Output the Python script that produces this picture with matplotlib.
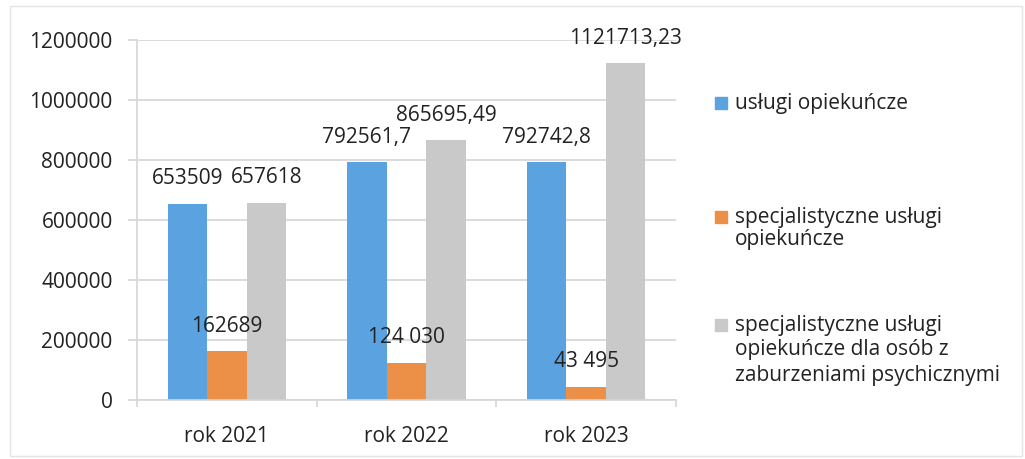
import numpy as np
import matplotlib.pyplot as plt
from matplotlib.patches import Rectangle

# dane z wykresu
years = ['rok 2021', 'rok 2022', 'rok 2023']
series_names = ['usługi opiekuńcze',
                'specjalistyczne usługi\nopiekuńcze',
                'specjalistyczne usługi\nopiekuńcze dla osób z\nzaburzeniami psychicznymi']
uslugi = [653509, 792561.7, 792742.8]
specjalistyczne = [162689, 124030, 43495]
psychiczne = [657618, 865695.49, 1121713.23]
labels_uslugi = ['653509', '792561,7', '792742,8']
labels_spec = ['162689', '124 030', '43 495']
labels_psych = ['657618', '865695,49', '1121713,23']
yticks = [0, 200000, 400000, 600000, 800000, 1000000, 1200000]

colors = ['#5BA3E0', '#EC8F47', '#C9C9C9']
txt = '#222222'
grid = '#d6d6d6'

plt.rcParams['font.family'] = ['Open Sans', 'DejaVu Sans']
plt.rcParams['font.size'] = 15

W, H = 1025, 459
fig = plt.figure(figsize=(W / 100, H / 100), dpi=100)
ax = fig.add_axes([137 / W, 59 / H, 539 / W, 360 / H])

x = np.arange(len(years))
w = 0.22
off = 0.22
all_vals = [uslugi, specjalistyczne, psychiczne]
all_labels = [labels_uslugi, labels_spec, labels_psych]
for i, (vals, labs) in enumerate(zip(all_vals, all_labels)):
    bars = ax.bar(x + (i - 1) * off, vals, w, color=colors[i], zorder=2)
    for b, lab in zip(bars, labs):
        ax.annotate(lab, (b.get_x() + b.get_width() / 2, b.get_height()),
                    xytext=(0, 18), textcoords='offset points',
                    ha='center', va='center', color=txt, fontsize=15, zorder=3)

ax.set_xlim(-0.5, 2.5)
ax.set_ylim(0, 1200000)
ax.set_yticks(yticks)
ax.set_yticklabels([str(v) for v in yticks])
ax.set_xticks(x)
ax.set_xticklabels(years)
ax.set_xticks([-0.5, 0.5, 1.5, 2.5], minor=True)

ax.yaxis.grid(True, color=grid, linewidth=1.2, zorder=0)
ax.tick_params(axis='y', length=6.5, color=grid, width=1.2, pad=11, labelcolor=txt)
ax.tick_params(axis='x', which='major', length=0, pad=19, labelcolor=txt)
ax.tick_params(axis='x', which='minor', length=5, color=grid, width=1.2)
for s in ['top', 'right']:
    ax.spines[s].set_visible(False)
for s in ['left', 'bottom']:
    ax.spines[s].set_color(grid)
    ax.spines[s].set_linewidth(1.2)

# legenda po prawej
line_y = [[103], [217, 240], [325, 350, 375]]
for name, col, ys in zip(series_names, colors, line_y):
    fig.add_artist(Rectangle((715 / W, 1 - (ys[0] + 6) / H), 12 / W, 12 / H,
                             transform=fig.transFigure, color=col))
    for line, yy in zip(name.split('\n'), ys):
        fig.text(735 / W, 1 - yy / H, line, ha='left', va='center',
                 color=txt, fontsize=15)

# ramka skanu
fig.add_artist(Rectangle((10 / W, 3 / H), 1012 / W, 450 / H, transform=fig.transFigure,
                         fill=False, edgecolor='#e4e4e4', linewidth=1))

fig.savefig('out.png', dpi=100)
